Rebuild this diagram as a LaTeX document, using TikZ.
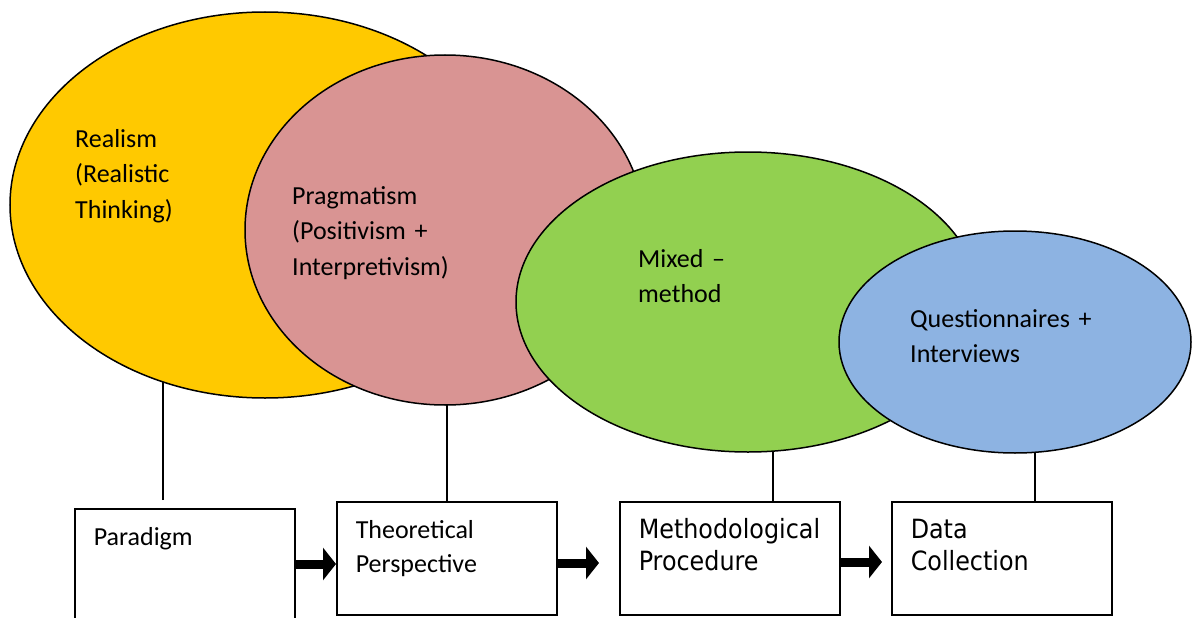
\documentclass[tikz,border=0pt]{standalone}
\usepackage{fontspec}
\setmainfont{Carlito}
\newfontfamily\widesans[FakeStretch=0.9]{DejaVu Sans}
\usepackage{tikz}
\usetikzlibrary{arrows.meta, positioning, shapes}
\definecolor{realyellow}{RGB}{255, 201, 0}
\definecolor{pragpink}{RGB}{217, 148, 147}
\definecolor{mixgreen}{RGB}{146, 208, 80}
\definecolor{questblue}{RGB}{141, 179, 226}
\pgfdeclarelayer{background}
\pgfsetlayers{background,main}
\tikzset{
  bubble/.style={ellipse, draw, line width=1.5pt},
  bubbletext/.style={align=left, anchor=north west, inner sep=0pt, text width=220pt, text height=20pt, font=\fontsize{26}{35.5}\selectfont},
  stagebox/.style={draw, line width=1.5pt, anchor=north west, align=left, text width=182pt, inner xsep=19pt, inner ysep=0pt, text height=37pt, text depth=76pt, font=\fontsize{26}{34}\selectfont},
  widebox/.style={stagebox, font=\widesans\fontsize{26.5}{32}\selectfont},
  flow/.style={line width=9pt, -{Triangle[width=32pt,length=13pt]}},
  stem/.style={line width=1.5pt}
}

\begin{document}
\begin{tikzpicture}[x=1pt,y=-1pt]
\useasboundingbox (0,0) rectangle (1195,618);

% Ellipses
\node[bubble, fill=realyellow, minimum width=510pt, minimum height=386pt] (real) at (265,205) {};
\node[bubble, fill=pragpink, minimum width=400pt, minimum height=350pt] (prag) at (445,230) {};
\node[bubble, fill=mixgreen, minimum width=464pt, minimum height=300pt] (mixed) at (748,302) {};
\node[bubble, fill=questblue, minimum width=352pt, minimum height=222pt] (quest) at (1015,342) {};

\node[bubbletext] (realtext) at (75,127) {Realism\\(Realistic\\Thinking)};
\node[bubbletext] (pragtext) at (292,184) {Pragmatism\\(Positivism +\\Interpretivism)};
\node[bubbletext] (mixedtext) at (638,247) {Mixed --\\method};
\node[bubbletext] (questtext) at (910,307) {Questionnaires +\\Interviews};

% Boxes
\node[stagebox, text depth=140pt] (para) at (74,508) {Paradigm};
\node[stagebox] (theo) at (336,501) {Theoretical\\Perspective};
\node[widebox] (meth) at (619,501) {Methodological\\Procedure};
\node[widebox] (data) at (891,501) {Data\\Collection};

% Stems
\begin{pgfonlayer}{background}
\draw[stem] ([xshift=-22pt,yshift=8pt]para.north) -- ([xshift=-22pt]para.north |- real.center);
\draw[stem] (theo.north) -- (theo.north |- prag.center);
\draw[stem] ([xshift=43pt]meth.north) -- ([xshift=43pt]meth.north |- mixed.center);
\draw[stem] ([xshift=33pt]data.north) -- ([xshift=33pt]data.north |- quest.center);
\end{pgfonlayer}

% Arrows
\draw[flow] (para.east |- 0,564) -- (theo.west |- 0,564);
\draw[flow] (theo.east |- 0,563) -- ([xshift=-20pt]meth.west |- 0,563);
\draw[flow] (meth.east |- 0,562) -- ([xshift=-9pt]data.west |- 0,562);
\end{tikzpicture}
\end{document}
